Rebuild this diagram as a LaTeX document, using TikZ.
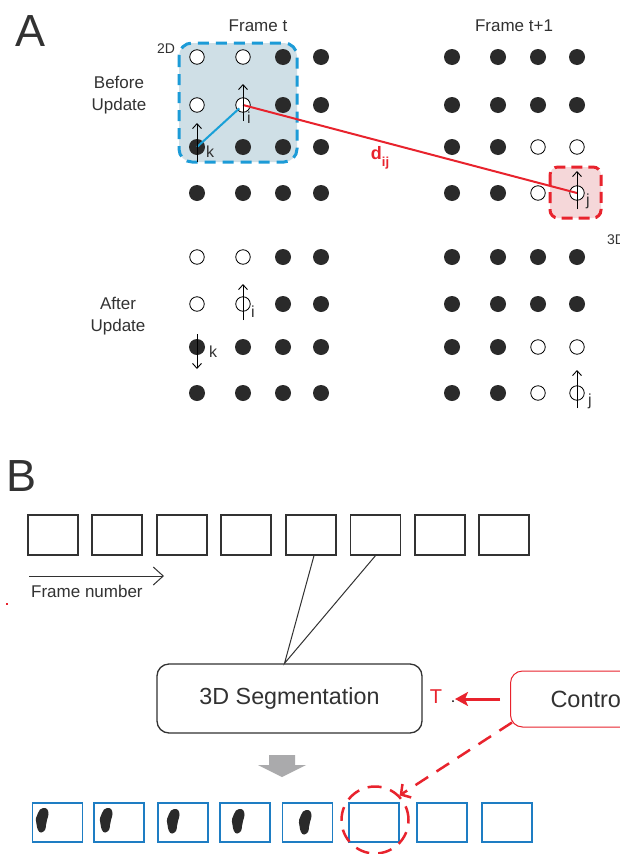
\documentclass[tikz,border=0pt]{standalone}
\usepackage{fontspec}
\setmainfont{Liberation Sans}
\usetikzlibrary{arrows.meta}
\definecolor{dotgray}{RGB}{42,42,42}
\definecolor{ink}{RGB}{50,50,50}
\definecolor{bluedash}{RGB}{28,155,215}
\definecolor{bluefill}{RGB}{207,223,230}
\definecolor{redc}{RGB}{232,35,45}
\definecolor{pinkfill}{RGB}{245,215,217}
\definecolor{cyanl}{RGB}{25,160,215}
\definecolor{frameblue}{RGB}{30,125,195}
\definecolor{grayarrow}{RGB}{170,170,172}
\tikzset{
  dotf/.style={circle, fill=dotgray, draw=none, inner sep=0pt, minimum size=16pt},
  doto/.style={circle, draw=black, line width=0.8pt, fill=white, inner sep=0pt, minimum size=14.5pt},
  vec/.style={draw=black, line width=0.9pt, -{Straight Barb[length=5pt,width=9pt]}},
  lbl/.style={text=ink, inner sep=0pt, font=\fontsize{17}{22}\selectfont, align=center},
  big/.style={text=ink, inner sep=0pt, font=\fontsize{45}{45}\selectfont},
  small/.style={text=ink, inner sep=0pt, font=\fontsize{14}{14}\selectfont},
  idx/.style={text=ink, inner sep=0pt, font=\fontsize{16}{16}\selectfont},
  fbox/.style={draw=ink, line width=1.2pt, minimum width=50pt, minimum height=40pt, inner sep=0pt},
  sbox/.style={draw=frameblue, line width=1.5pt, minimum width=50pt, minimum height=39pt, inner sep=0pt},
  blob/.pic={\fill[dotgray] plot[smooth cycle, tension=0.7] coordinates {(7,0) (11,1) (12.5,6) (11,12) (10,17) (9,22) (5,24.5) (2,22) (0.5,16) (0,10) (2,5) (4,1.5)};}
}
\begin{document}
\begin{tikzpicture}[x=1pt,y=-1pt]
\useasboundingbox (0,0) rectangle (620,854);
\fill[white] (0,0) rectangle (620,854);

% ---------- Part A ----------
\node[big] (lA) at (31,31) {A};
\node[lbl] (ft) at (258,26) {Frame t};
\node[lbl] (ft1) at (514,26) {Frame t+1};
\node[small] (l2d) at (166,49) {2D};
\node[small, anchor=west] (l3d) at (607,240) {3D};
\node[lbl] (before) at (119,95) {Before\\Update};
\node[lbl] (after) at (118,316) {After\\Update};

% highlight boxes
\draw[bluedash, fill=bluefill, line width=3pt, dash pattern=on 11pt off 7pt, rounded corners=13pt]
  (179,43) rectangle (297,162);
\draw[redc, fill=pinkfill, line width=3pt, dash pattern=on 11pt off 6pt, rounded corners=8pt]
  (550,167) rectangle (601,218);

% Frame t, before
\foreach \r/\y/\pa/\pb/\pc/\pd in {1/57/doto/doto/dotf/dotf, 2/105/doto/doto/dotf/dotf, 3/147/dotf/dotf/dotf/dotf, 4/193/dotf/dotf/dotf/dotf} {
  \node[\pa] (tb-1-\r) at (197,\y) {};
  \node[\pb] (tb-2-\r) at (243,\y) {};
  \node[\pc] (tb-3-\r) at (283,\y) {};
  \node[\pd] (tb-4-\r) at (321,\y) {};
}
% Frame t+1, before
\foreach \r/\y/\pa/\pb/\pc/\pd in {1/57/dotf/dotf/dotf/dotf, 2/105/dotf/dotf/dotf/dotf, 3/147/dotf/dotf/doto/doto, 4/193/dotf/dotf/doto/doto} {
  \node[\pa] (nb-1-\r) at (452,\y) {};
  \node[\pb] (nb-2-\r) at (498,\y) {};
  \node[\pc] (nb-3-\r) at (538,\y) {};
  \node[\pd] (nb-4-\r) at (577,\y) {};
}
% Frame t, after
\foreach \r/\y/\pa/\pb/\pc/\pd in {1/257/doto/doto/dotf/dotf, 2/304/doto/doto/dotf/dotf, 3/347/dotf/dotf/dotf/dotf, 4/393/dotf/dotf/dotf/dotf} {
  \node[\pa] (ta-1-\r) at (197,\y) {};
  \node[\pb] (ta-2-\r) at (243,\y) {};
  \node[\pc] (ta-3-\r) at (283,\y) {};
  \node[\pd] (ta-4-\r) at (321,\y) {};
}
% Frame t+1, after
\foreach \r/\y/\pa/\pb/\pc/\pd in {1/257/dotf/dotf/dotf/dotf, 2/304/dotf/dotf/dotf/dotf, 3/347/dotf/dotf/doto/doto, 4/393/dotf/dotf/doto/doto} {
  \node[\pa] (na-1-\r) at (452,\y) {};
  \node[\pb] (na-2-\r) at (498,\y) {};
  \node[\pc] (na-3-\r) at (538,\y) {};
  \node[\pd] (na-4-\r) at (577,\y) {};
}

% connections
\draw[cyanl, line width=2pt, shorten >=5pt] (tb-1-3.center) -- (tb-2-2.center);
\draw[redc, line width=2pt] (tb-2-2.center) -- (nb-4-4.center);
\node[text=redc, inner sep=0pt, font=\bfseries\fontsize{18}{18}\selectfont] (dij) at (380,158) {d\raisebox{-7pt}{\fontsize{13}{13}\selectfont ij}};

% vectors
\draw[vec] ([yshift=-16pt]tb-2-2.center) -- ([yshift=21pt]tb-2-2.center);
\draw[vec] ([yshift=-15pt]tb-1-3.center) -- ([yshift=24pt]tb-1-3.center);
\draw[vec] ([yshift=-16pt]nb-4-4.center) -- ([yshift=22pt]nb-4-4.center);
\draw[vec] ([yshift=-16pt]ta-2-2.center) -- ([yshift=20pt]ta-2-2.center);
\draw[vec] ([yshift=13pt]ta-1-3.center) -- ([yshift=-22pt]ta-1-3.center);
\draw[vec] ([yshift=-15pt]na-4-4.center) -- ([yshift=23pt]na-4-4.center);

\node[idx] (li1) at (249,118) {i};
\node[idx] (lk1) at (210,152) {k};
\node[idx] (lj1) at (588,201) {j};
\node[idx] (li2) at (253,312) {i};
\node[idx] (lk2) at (213,352) {k};
\node[idx] (lj2) at (590,401) {j};

% ---------- Part B ----------
\node[big] (lB) at (22,476) {B};
\fill[redc] (6,603) rectangle (8,605);

\foreach \i/\x in {1/53,2/117,3/182,4/246,5/311,6/375.5,7/440,8/504}
  \node[fbox] (f\i) at (\x,535) {};

\coordinate (fn0) at (29,576);
\coordinate (fn1) at (164,576);
\draw[ink, line width=1pt, -{Straight Barb[length=10pt,width=18pt]}] (fn0) -- (fn1);
\node[lbl, anchor=west] (fnum) at (31,591) {Frame number};

\node[draw=ink, line width=1.3pt, rounded corners=12pt, minimum width=265pt, minimum height=69pt, inner sep=0pt,
      text=ink, font=\fontsize{23.3}{26}\selectfont] (seg) at (289.5,698.5) {3D Segmentation};
\draw[ink, line width=1pt] ([xshift=3pt]f5.south) -- ([xshift=-5pt]seg.north) -- (f6.south);

\node[draw=redc, line width=1pt, rounded corners=12pt, anchor=west, minimum height=56pt, text width=120pt,
      inner xsep=40pt, inner ysep=0pt, align=left, text=ink, font=\fontsize{23.5}{26}\selectfont] (ctrl) at (510,699) {Control};

\node[text=redc, inner sep=0pt, font=\fontsize{20}{20}\selectfont] (T) at (436,697) {T};
\node[circle, fill=black, inner sep=0pt, minimum size=2pt] (tdot) at (453,701) {};
\coordinate (tip) at (455,699);
\draw[redc, line width=3pt, -{Stealth[length=13pt,width=14pt,inset=3pt]}] ([xshift=-10pt]ctrl.west) -- (tip);

% gray down arrow
\fill[grayarrow] (269,755) -- (295,755) -- (295,765) -- (306,765) -- (282,777) -- (258,765) -- (269,765) -- cycle;

\foreach \i/\x in {1/57.5,2/119,3/183,4/245,5/307.5,6/374,7/442,8/507}
  \node[sbox] (s\i) at (\x,822.5) {};

\pic at (36,808) {blob};
\pic at (100,808) {blob};
\pic at (167,809) {blob};
\pic at (232,809) {blob};
\pic at (299,810) {blob};

\node[circle, draw=redc, line width=2.5pt, dash pattern=on 14pt off 9pt, minimum size=67pt, inner sep=0pt] (circ) at (375,820) {};
\draw[redc, line width=2.5pt, dash pattern=on 15pt off 10pt, -{Straight Barb[length=7pt,width=16pt]}]
  ([xshift=2pt,yshift=5pt]ctrl.south west) -- (circ.north east);
\end{tikzpicture}
\end{document}
